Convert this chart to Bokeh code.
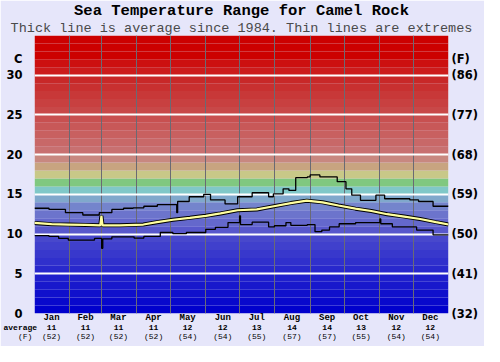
from bokeh.plotting import figure
from bokeh.models import Range1d, FixedTicker, LinearAxis, Title
from bokeh.embed import file_html
from bokeh.resources import INLINE

# ---------------- data ----------------
months = ["Jan", "Feb", "Mar", "Apr", "May", "Jun", "Jul", "Aug", "Sep", "Oct", "Nov", "Dec"]
avg_month_c = [11, 11, 11, 11, 12, 12, 13, 14, 14, 13, 12, 12]
avg_month_f = [52, 52, 52, 52, 54, 54, 55, 57, 57, 55, 54, 54]
month_start = [0, 31, 59, 90, 120, 151, 181, 212, 243, 273, 304, 334]
month_mid = [15, 45, 74, 105, 135, 166, 196, 227, 258, 288, 319, 349]

c_ticks = [0, 5, 10, 15, 20, 25, 30]
f_tick_labels = ["(32)", "(41)", "(50)", "(59)", "(68)", "(77)", "(86)"]

# colour bands: 1 degree each (bottom temperature of band)
band_bottom = list(range(0, 35))
band_colors = [
    "#0000cc", "#0808cc", "#1010cc", "#1818cc", "#2020cc", "#2828cc", "#3030cc",
    "#3838cc", "#4040cc", "#4848cc", "#5858cc", "#6468cc", "#6c74cc", "#7484cc",
    "#80a8cc", "#80c8c8", "#80c880", "#c8c888", "#c8a480", "#c88880", "#c87070",
    "#c86868", "#c86060", "#c85858", "#c85050", "#c84848", "#c84040", "#c83838",
    "#c83030", "#c82828", "#cc1c1c", "#cc1010", "#cc0000", "#cc0000", "#cc0000",
]

# maximum (step, value holds from day onward)
max_day = [0, 12.8, 27.3, 42.6, 57.1, 68.2, 78.5, 87, 96.4, 108.3, 125.4, 126.2, 136.4,
           149.2, 155.2, 168, 179.1, 191.9, 206.4, 210.6, 219.2, 224.3, 230.3, 240.5,
           243, 251.6, 266.9, 274.6, 279.7, 287.4, 301, 308.7, 330.9, 338.6, 351.4, 365]
max_temp = [13.25, 13.1, 12.7, 12.4, 12.7, 13.1, 13.25, 13.3, 13.5, 13.7, 12.7, 14.1, 14.7,
            15.0, 14.3, 13.8, 14.7, 15.2, 14.7, 15.05, 15.7, 15.5, 17.1, 17.2,
            17.45, 17.2, 16.6, 15.7, 14.9, 14.25, 14.9, 14.45, 14.3, 14.1, 13.5, 13.5]

# minimum
min_day = [0, 12.8, 21.3, 29.8, 52.9, 59.2, 60.2, 68.2, 87.8, 96.4, 110.9, 122, 133.9,
           151, 159.5, 170.6, 180.8, 181.6, 191.9, 206.4, 211.5, 221.7, 226, 240.5,
           247.3, 253.3, 260.1, 268.6, 283.1, 304.5, 305.3, 315.5, 336.9, 351.4, 365]
min_temp = [9.8, 9.7, 9.45, 9.25, 9.45, 8.2, 9.4, 9.65, 9.5, 9.7, 10.2, 10.05, 10.2,
            10.6, 10.85, 11.45, 12.3, 11.2, 11.5, 10.9, 11.05, 11.45, 11.1, 11.2,
            10.3, 10.5, 10.9, 11.3, 11.45, 11.9, 11.3, 10.9, 10.5, 9.9, 9.9]

# average
avg_day = [0, 15, 30, 45, 58, 59, 60, 75, 96, 108, 122, 137, 151, 164, 179, 196, 211,
           226, 240, 254, 268, 283, 297, 311, 326, 340, 354, 365]
avg_temp = [11.4, 11.25, 11.2, 11.15, 11.1, 12.3, 11.1, 11.1, 11.2, 11.5, 11.8, 12.05,
            12.3, 12.6, 13.0, 13.1, 13.5, 13.9, 14.2, 14.0, 13.6, 13.2, 12.9, 12.5,
            12.2, 11.9, 11.5, 11.2]

# ---------------- figure ----------------
W, H = 484, 346
BL, BR, BT, BB = 34, 36, 35, 33
BG = "#e6e6fa"
p = figure(width=W, height=H, x_range=Range1d(0, 365), y_range=Range1d(0, 35),
           output_backend="svg", toolbar_location=None, x_axis_location=None,
           min_border_left=BL, min_border_right=BR, min_border_top=BT, min_border_bottom=BB,
           background_fill_color=BG, border_fill_color=BG, outline_line_color=None)

p.add_layout(Title(text="Thick line is average since 1984. Thin lines are extremes",
                   align="center", text_font="Liberation Mono", text_font_size="13.5px",
                   text_font_style="normal", text_color="#4a4a4a", standoff=0, offset=0), "above")
p.add_layout(Title(text="Sea Temperature Range for Camel Rock",
                   align="center", text_font="Liberation Mono", text_font_size="15.5px",
                   text_font_style="bold", text_color="#000000", standoff=-3), "above")

band_top = [b + 1 for b in band_bottom]
p.quad(left=0, right=365, bottom=band_bottom, top=band_top, fill_color=band_colors,
       line_color=None, level="image")

# grids
p.ygrid.ticker = FixedTicker(ticks=c_ticks[1:])
p.ygrid.grid_line_color = "white"
p.ygrid.grid_line_width = 2
p.xgrid.ticker = FixedTicker(ticks=month_start[1:])
p.xgrid.grid_line_color = "#6a6a74"
p.xgrid.grid_line_width = 1

# lines
p.step(max_day, max_temp, mode="after", line_color="black", line_width=1.3)
p.step(min_day, min_temp, mode="after", line_color="black", line_width=1.3)
p.line(avg_day, avg_temp, line_color="black", line_width=4)
p.line(avg_day, avg_temp, line_color="#ffffa0", line_width=2.2)


def style_axis(ax, font, size, bold=True, standoff=3):
    ax.axis_line_color = None
    ax.major_tick_line_color = None
    ax.minor_tick_line_color = None
    ax.major_tick_out = 0
    ax.major_tick_in = 0
    ax.major_label_standoff = standoff
    ax.major_label_text_font = font
    ax.major_label_text_font_size = "%spx" % size
    ax.major_label_text_font_style = "bold" if bold else "normal"
    ax.major_label_text_color = "black"


# left (C) axis
ly = p.yaxis[0]
ly.ticker = FixedTicker(ticks=c_ticks + [32])
ly.major_label_overrides = {**{t: str(t) for t in c_ticks}, 32: "C"}
style_axis(ly, "DejaVu Sans", 11.5, True, 12)

# right (F) axis
ry = LinearAxis(ticker=FixedTicker(ticks=c_ticks + [32]))
ry.major_label_overrides = {**{t: l for t, l in zip(c_ticks, f_tick_labels)}, 32: "(F)"}
style_axis(ry, "DejaVu Sans", 11.5, True, 3)
p.add_layout(ry, "right")

# bottom axes: month names, average C, average F
px_per_day = (W - BL - BR) / 365.0
ROW_FS = 8.0
cw = 0.6 * ROW_FS          # monospace character width
NB = "\u00a0"


def lead_label(prefix, gap, value, trail):
    """Label for January that also carries the row caption at its left.
    Returns (tick position, text) so that `value` stays centred on January."""
    text = prefix + NB * gap + value + NB * trail
    n = len(text)
    value_centre = len(prefix) + gap + len(value) / 2.0
    shift_px = (value_centre - n / 2.0) * cw
    return month_mid[0] - shift_px / px_per_day, text


ax_m = LinearAxis(ticker=FixedTicker(ticks=month_mid))
ax_m.major_label_overrides = {d: m for d, m in zip(month_mid, months)}
style_axis(ax_m, "Liberation Mono", 9, True, -1)
p.add_layout(ax_m, "below")

c_labels = [str(c) for c in avg_month_c]
jan_c_pos, jan_c_text = lead_label("average", 2, c_labels[0], 3)
c_pos = [jan_c_pos] + month_mid[1:]
c_text = [jan_c_text] + c_labels[1:]
ax_c = LinearAxis(ticker=FixedTicker(ticks=c_pos))
ax_c.major_label_overrides = {d: l for d, l in zip(c_pos, c_text)}
style_axis(ax_c, "Liberation Mono", ROW_FS, True, -3)
p.add_layout(ax_c, "below")

f_labels = ["(%d)" % f for f in avg_month_f]
jan_f_pos, jan_f_text = lead_label("(F)", 2, f_labels[0], 0)
f_pos = [jan_f_pos] + month_mid[1:]
f_text = [jan_f_text] + f_labels[1:]
ax_f = LinearAxis(ticker=FixedTicker(ticks=f_pos))
ax_f.major_label_overrides = {d: l for d, l in zip(f_pos, f_text)}
style_axis(ax_f, "Liberation Mono", ROW_FS, False, -3)
p.add_layout(ax_f, "below")

open("out.html", "w").write(file_html(p, INLINE))
